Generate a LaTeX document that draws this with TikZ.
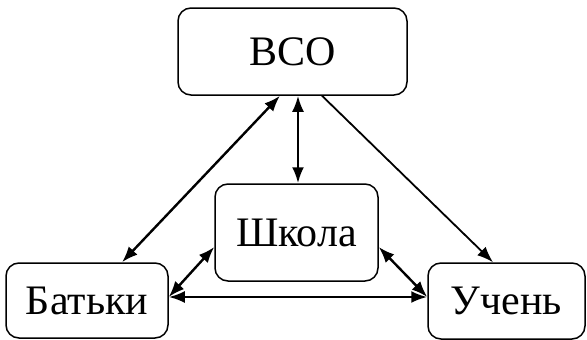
\documentclass[tikz,border=0pt]{standalone}
\usepackage{fontspec}
\setmainfont{Liberation Serif}
\usetikzlibrary{arrows.meta,calc}
\tikzset{
  box/.style={draw, line width=1.5pt, rounded corners=13pt, font=\fontsize{42}{46}\selectfont, inner sep=0pt},
  link/.style={line width=2.4pt, {Latex[length=16pt,width=12pt]}-{Latex[length=16pt,width=12pt]}},
  onelink/.style={line width=1.8pt, -{Latex[length=16pt,width=12pt]}}
}
\begin{document}
\begin{tikzpicture}[x=1pt,y=-1pt]
\useasboundingbox (0,0) rectangle (587,340);
\node[box, minimum width=229pt, minimum height=87pt] (vso) at (292.5,51.5) {ВСО};
\node[box, minimum width=163pt, minimum height=97pt] (sch) at (296.5,232.5) {Школа};
\node[box, minimum width=162pt, minimum height=75pt] (bat) at (87,300.5) {Батьки};
\node[box, minimum width=157pt, minimum height=76pt] (uch) at (506.5,301) {Учень};
\coordinate (a1) at (280,0 |- vso.south);
\coordinate (a2) at (122,0 |- bat.north);
\coordinate (b1) at (298,0 |- vso.south);
\coordinate (b2) at (298,0 |- sch.north);
\coordinate (c1) at (322,0 |- vso.south);
\coordinate (c2) at (493,0 |- uch.north);
\coordinate (d1) at (sch.west |- 0,247);
\coordinate (d2) at (bat.east |- 0,297);
\coordinate (e2) at (uch.west |- 0,297);
\coordinate (f1) at (sch.east |- 0,247);
\draw[link] (a1) -- (a2);
\draw[link] (b1) -- (b2);
\draw[onelink] (c1) -- (c2);
\draw[link] (d1) -- (d2);
\draw[link] (d2) -- (e2);
\draw[link] (f1) -- (e2);
\end{tikzpicture}
\end{document}
